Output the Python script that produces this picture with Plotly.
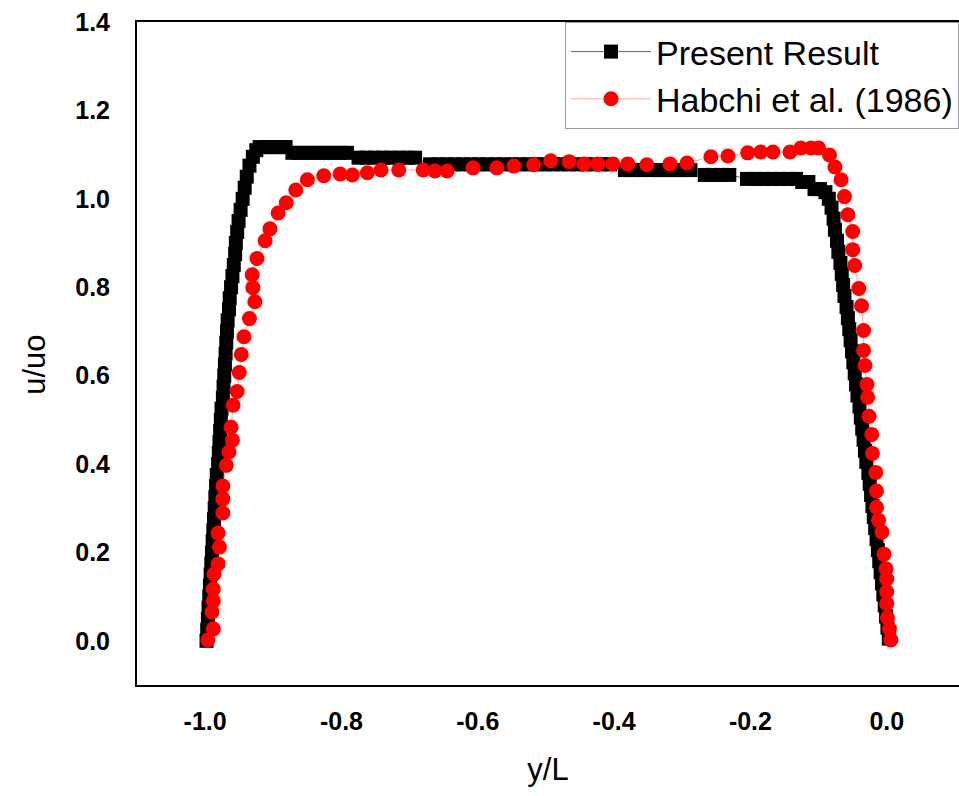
import plotly.graph_objects as go

# Velocity profile u/uo across the channel, y/L from -1 to 0

# Present Result (dense square markers)
present_x = [
    -0.998, -0.997, -0.996, -0.995, -0.994, -0.993, -0.992, -0.991, -0.990, -0.989,
    -0.988, -0.987, -0.986, -0.985, -0.984, -0.983, -0.981, -0.980, -0.979, -0.978,
    -0.977, -0.976, -0.974, -0.973, -0.972, -0.971, -0.970, -0.969, -0.968, -0.967,
    -0.965, -0.964, -0.962, -0.960, -0.958, -0.956, -0.955, -0.953, -0.951, -0.948,
    -0.945, -0.942, -0.939, -0.935, -0.930, -0.925,
    -0.920, -0.912, -0.904, -0.896, -0.888, -0.882,
    -0.872, -0.862, -0.852, -0.842, -0.832, -0.822, -0.812, -0.802, -0.792,
    -0.775, -0.763, -0.751, -0.739, -0.727, -0.715, -0.703, -0.692,
    -0.670, -0.658, -0.646, -0.634, -0.622, -0.610, -0.598, -0.586, -0.574, -0.562,
    -0.550, -0.538, -0.526, -0.514, -0.502, -0.490, -0.478, -0.466, -0.454, -0.442,
    -0.430, -0.418, -0.406,
    -0.384, -0.372, -0.360, -0.348, -0.336, -0.324, -0.312, -0.300, -0.288,
    -0.267, -0.255, -0.243, -0.231,
    -0.205, -0.193, -0.181, -0.169, -0.157, -0.145, -0.133,
    -0.124, -0.115, -0.106, -0.098,
    -0.090, -0.085, -0.081, -0.078, -0.076, -0.073, -0.071, -0.068, -0.066, -0.064,
    -0.062, -0.059, -0.057, -0.055, -0.053, -0.051, -0.049, -0.047, -0.045, -0.043,
    -0.040, -0.038, -0.036, -0.034, -0.032, -0.030, -0.027, -0.025, -0.023, -0.021,
    -0.019, -0.017, -0.015, -0.013, -0.011, -0.009, -0.007, -0.005, -0.003, -0.001,
    0.001, 0.003,
]
present_u = [
    0.000, 0.025, 0.050, 0.075, 0.100, 0.125, 0.150, 0.175, 0.200, 0.225,
    0.250, 0.275, 0.300, 0.325, 0.350, 0.375, 0.400, 0.425, 0.450, 0.475,
    0.500, 0.525, 0.550, 0.575, 0.600, 0.625, 0.650, 0.675, 0.700, 0.725,
    0.750, 0.775, 0.800, 0.825, 0.850, 0.875, 0.900, 0.925, 0.950, 0.975,
    1.000, 1.025, 1.050, 1.075, 1.095, 1.110,
    1.117, 1.117, 1.117, 1.117, 1.117, 1.117,
    1.104, 1.104, 1.104, 1.104, 1.104, 1.104, 1.104, 1.104, 1.104,
    1.093, 1.093, 1.093, 1.093, 1.093, 1.093, 1.093, 1.093,
    1.078, 1.078, 1.078, 1.078, 1.078, 1.078, 1.078, 1.078, 1.078, 1.078,
    1.078, 1.078, 1.078, 1.078, 1.078, 1.078, 1.078, 1.078, 1.078, 1.078,
    1.078, 1.078, 1.078,
    1.065, 1.065, 1.065, 1.065, 1.065, 1.065, 1.065, 1.065, 1.065,
    1.054, 1.054, 1.054, 1.054,
    1.045, 1.045, 1.045, 1.045, 1.045, 1.045, 1.045,
    1.038, 1.038, 1.022, 1.022,
    1.015, 1.000, 0.980, 0.955, 0.930, 0.905, 0.880, 0.855, 0.830, 0.805,
    0.780, 0.755, 0.730, 0.705, 0.680, 0.655, 0.630, 0.605, 0.580, 0.555,
    0.530, 0.505, 0.480, 0.455, 0.430, 0.405, 0.380, 0.355, 0.330, 0.305,
    0.280, 0.255, 0.230, 0.205, 0.180, 0.155, 0.130, 0.105, 0.080, 0.055,
    0.030, 0.005,
]

# Habchi et al. (1986)
habchi_x = [
    -0.996, -0.988, -0.990, -0.988, -0.988, -0.987, -0.981, -0.979, -0.981, -0.974,
    -0.974, -0.974, -0.969, -0.965, -0.960, -0.962, -0.959, -0.953, -0.950, -0.947,
    -0.943, -0.935, -0.927, -0.930, -0.931, -0.924, -0.912, -0.905, -0.893, -0.881,
    -0.867, -0.850, -0.826, -0.802, -0.784, -0.762, -0.742, -0.716, -0.680, -0.663,
    -0.645, -0.607, -0.572, -0.547, -0.518, -0.493, -0.466, -0.444, -0.424, -0.402,
    -0.380, -0.352, -0.318, -0.293, -0.258, -0.233, -0.204, -0.185, -0.167, -0.142,
    -0.126, -0.111, -0.100, -0.084, -0.076, -0.067, -0.062, -0.057, -0.050, -0.050,
    -0.047, -0.041, -0.037, -0.034, -0.034, -0.032, -0.029, -0.028, -0.026, -0.022,
    -0.021, -0.016, -0.015, -0.015, -0.012, -0.007, -0.004, -0.001, 0.000, 0.000,
    0.000, 0.001, 0.004, 0.006,
]
habchi_u = [
    0.002, 0.027, 0.065, 0.090, 0.117, 0.151, 0.174, 0.212, 0.244, 0.289,
    0.321, 0.350, 0.397, 0.427, 0.454, 0.483, 0.533, 0.564, 0.607, 0.648,
    0.688, 0.729, 0.767, 0.799, 0.828, 0.865, 0.905, 0.932, 0.968, 0.991,
    1.020, 1.043, 1.052, 1.056, 1.054, 1.059, 1.065, 1.065, 1.065, 1.063,
    1.063, 1.070, 1.070, 1.074, 1.077, 1.086, 1.084, 1.079, 1.079, 1.079,
    1.079, 1.077, 1.079, 1.081, 1.095, 1.097, 1.104, 1.106, 1.106, 1.106,
    1.115, 1.115, 1.115, 1.099, 1.072, 1.043, 1.005, 0.964, 0.926, 0.885,
    0.849, 0.797, 0.758, 0.702, 0.657, 0.623, 0.580, 0.551, 0.508, 0.467,
    0.424, 0.381, 0.339, 0.302, 0.273, 0.246, 0.196, 0.163, 0.140, 0.111,
    0.084, 0.052, 0.027, 0.002,
]

x_ticks = [-1.0, -0.8, -0.6, -0.4, -0.2, 0.0]
x_tick_text = ["-1.0", "-0.8", "-0.6", "-0.4", "-0.2", "0.0"]
y_ticks = [0.0, 0.2, 0.4, 0.6, 0.8, 1.0, 1.2, 1.4]
y_tick_text = ["0.0", "0.2", "0.4", "0.6", "0.8", "1.0", "1.2", "1.4"]

FONT = "Liberation Sans, Arial, sans-serif"

fig = go.Figure()

fig.add_trace(go.Scatter(
    x=present_x, y=present_u, mode="lines+markers", name="Present Result",
    line=dict(color="rgba(60,60,60,0.8)", width=1),
    marker=dict(symbol="square", size=14, color="black"),
))

fig.add_trace(go.Scatter(
    x=habchi_x, y=habchi_u, mode="lines+markers", name="Habchi et al. (1986)",
    line=dict(color="rgba(255,0,0,0.35)", width=1),
    marker=dict(symbol="circle", size=15, color="#ff0000"),
))

fig.update_layout(
    width=959, height=796,
    margin=dict(l=137, r=0, t=22, b=111),
    paper_bgcolor="white", plot_bgcolor="white",
    font=dict(family=FONT, color="black"),
    showlegend=True,
    legend=dict(
        x=1, y=1, xanchor="right", yanchor="top",
        bgcolor="white", bordercolor="#999999", borderwidth=1,
        font=dict(family=FONT, size=34, color="black"),
        itemwidth=80,
    ),
    annotations=[dict(
        text="u/uo", textangle=-90, showarrow=False,
        xref="paper", yref="paper", x=-0.124, y=0.483,
        xanchor="center", yanchor="middle",
        font=dict(family=FONT, size=31, color="black"),
    )],
)

fig.update_xaxes(
    range=[-1.1, 0.106], tickvals=x_ticks, ticktext=x_tick_text,
    showgrid=False, zeroline=False,
    showline=True, linecolor="black", linewidth=2, mirror=True,
    ticks="", ticklabelstandoff=13,
    tickfont=dict(family=FONT, size=25, color="black", weight="bold"),
    title=dict(text="y/L", font=dict(family=FONT, size=31, color="black"), standoff=24),
)

fig.update_yaxes(
    range=[-0.1, 1.4], tickvals=y_ticks, ticktext=y_tick_text,
    showgrid=False, zeroline=False,
    showline=True, linecolor="black", linewidth=2, mirror=False,
    ticks="", ticklabelstandoff=20,
    tickfont=dict(family=FONT, size=25, color="black", weight="bold"),
)

fig.write_html("out.html")
